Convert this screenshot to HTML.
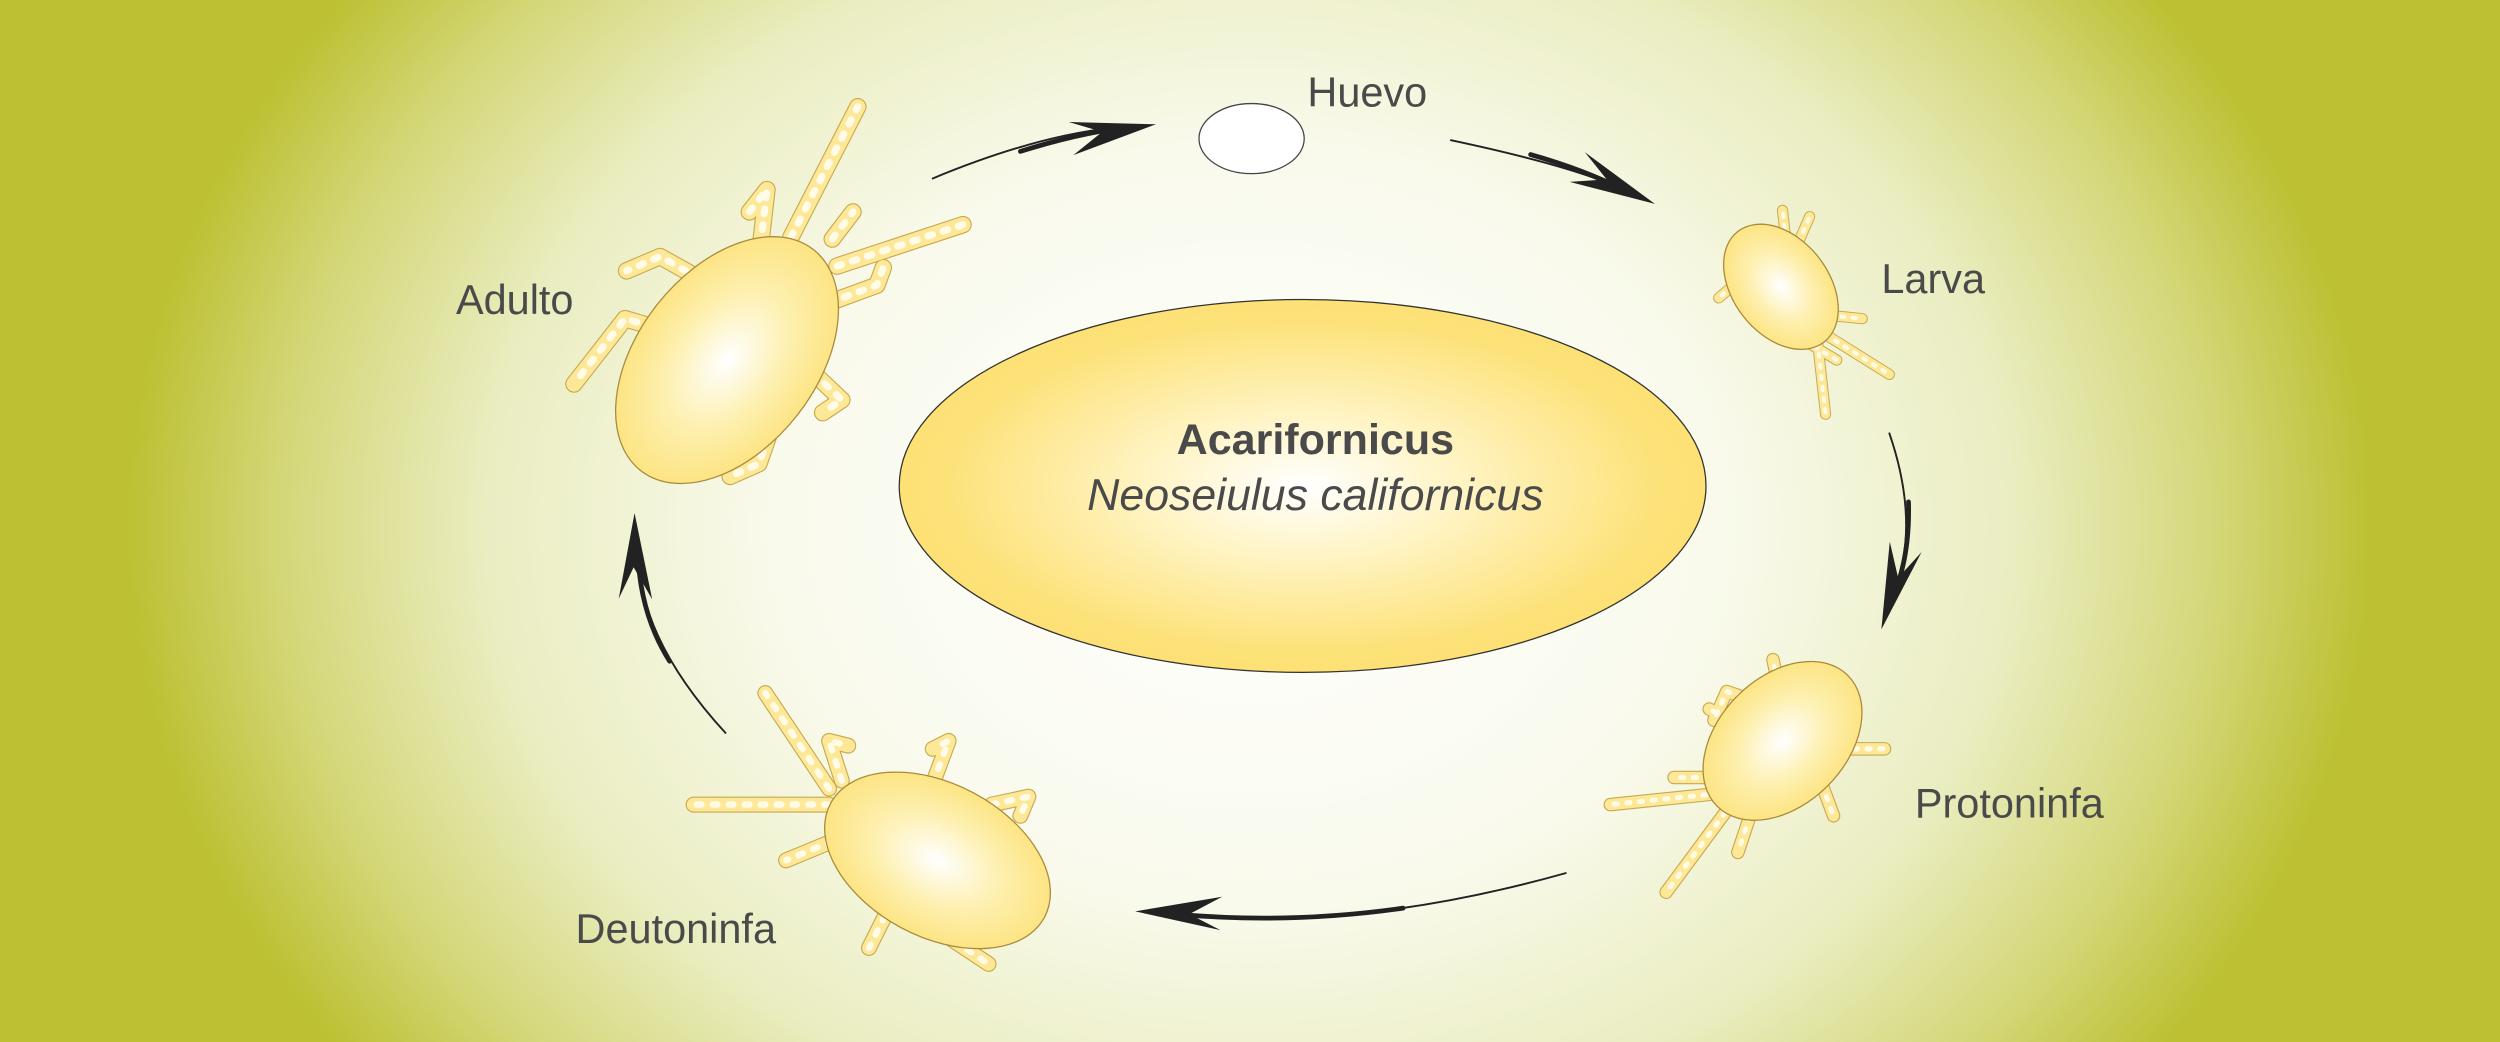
<!DOCTYPE html>
<html><head><meta charset="utf-8"><style>
html,body{margin:0;padding:0;width:2500px;height:1042px;overflow:hidden;background:#bcc032}
svg{display:block}
text{font-family:"Liberation Sans",sans-serif;fill:#4a4a4a}
</style></head><body>
<svg width="2500" height="1042" viewBox="0 0 1568 654" preserveAspectRatio="none" xmlns="http://www.w3.org/2000/svg">
<defs>
<radialGradient id="bg" gradientUnits="userSpaceOnUse" cx="784" cy="330" r="705" gradientTransform="translate(784 330) scale(1 0.8) translate(-784 -330)">
<stop offset="0" stop-color="#ffffff"/><stop offset="0.42" stop-color="#f9faec"/><stop offset="0.68" stop-color="#eaedc0"/><stop offset="0.86" stop-color="#d4d778"/><stop offset="1" stop-color="#bcc032"/>
</radialGradient>
<radialGradient id="gold" cx="0.5" cy="0.5" r="0.55">
<stop offset="0" stop-color="#ffffff"/><stop offset="0.35" stop-color="#fff4c4"/><stop offset="0.8" stop-color="#fde27a"/><stop offset="1" stop-color="#fde070"/>
</radialGradient>
<radialGradient id="body" cx="0.5" cy="0.5" r="0.55">
<stop offset="0" stop-color="#ffffff"/><stop offset="0.5" stop-color="#fdf0b0"/><stop offset="1" stop-color="#fde27a"/>
</radialGradient>
<polygon id="ah" points="0,0 -54,-9 -34,0 -54,12" fill="#222"/>
<g id="legA">
<path d="M496,149 L538,67"/><path d="M477,154 L481,119 L470,133"/><path d="M525,167 L604,141"/>
<path d="M520,190 L550,179 L554,168"/><path d="M439,175 L414,161 L393,170"/><path d="M409,205 L392,200 L360,241"/>
<path d="M510,234 L528,251 L516,259"/><path d="M485,265 L476,291 L458,299"/><path d="M522,150 L535,133"/>
</g>
<g id="legL">
<path d="M1120,150 L1118,132"/><path d="M1128,152 L1135,136"/><path d="M1092,175 L1078,187"/>
<path d="M1148,198 L1168,200"/><path d="M1145,210 L1185,235"/><path d="M1140,215 L1145,260"/><path d="M1132,214 L1152,226"/>
</g>
<g id="legP">
<path d="M1100,440 L1083,434 L1075,452"/><path d="M1090,455 L1072,445"/><path d="M1078,498 L1010,505"/>
<path d="M1082,510 L1045,560"/><path d="M1100,505 L1090,535"/><path d="M1140,485 L1150,512"/>
<path d="M1155,470 L1182,470"/><path d="M1115,428 L1112,414"/><path d="M1072,488 L1050,488"/>
</g>
<g id="legD">
<path d="M520,505 L435,505"/><path d="M520,495 L480,435"/><path d="M528,490 L520,465 L532,468"/>
<path d="M585,492 L595,465 L585,470"/><path d="M622,505 L645,500 L640,512"/><path d="M522,528 L493,540"/>
<path d="M555,575 L545,595"/><path d="M590,585 L620,605"/>
</g>
</defs>
<rect width="1568" height="654" fill="url(#bg)"/>

<ellipse cx="817" cy="305" rx="253" ry="117" fill="url(#gold)" stroke="#333" stroke-width="0.8"/>
<text x="825" y="285" font-size="27" font-weight="bold" text-anchor="middle">Acarifornicus</text>
<text x="825" y="320" font-size="28" font-style="italic" text-anchor="middle">Neoseiulus californicus</text>

<ellipse cx="785" cy="87" rx="33" ry="22" fill="#fff" stroke="#444" stroke-width="0.8"/>

<text x="820" y="67" font-size="26">Huevo</text>
<text x="1180" y="184" font-size="26">Larva</text>
<text x="1201" y="513" font-size="26">Protoninfa</text>
<text x="361" y="592" font-size="26">Deutoninfa</text>
<text x="286" y="197" font-size="26">Adulto</text>

<g fill="none" stroke="#222" stroke-linecap="round">
<path d="M585,112 Q650,85 700,80" stroke-width="1.2"/><path d="M640,95 Q675,84 705,80" stroke-width="3"/>
<path d="M910,88 Q990,105 1020,120" stroke-width="1.2"/><path d="M960,97 Q995,107 1020,120" stroke-width="3"/>
<path d="M1185,272 Q1205,330 1187,375" stroke-width="1.2"/><path d="M1197,315 Q1198,350 1187,375" stroke-width="3"/>
<path d="M982,548 Q850,585 740,574" stroke-width="1.2"/><path d="M880,570 Q810,580 740,574" stroke-width="3"/>
<path d="M455,460 Q400,400 400,345" stroke-width="1.2"/><path d="M420,415 Q401,385 400,345" stroke-width="3"/>
</g>
<use href="#ah" transform="translate(725,78) rotate(-8)"/>
<use href="#ah" transform="translate(1038,128) rotate(27)"/>
<use href="#ah" transform="translate(1180,395) rotate(108)"/>
<use href="#ah" transform="translate(712,572) rotate(183)"/>
<use href="#ah" transform="translate(398,322) rotate(-89)"/>

<g fill="none" stroke-linecap="round" stroke-linejoin="round">
<use href="#legA" stroke="#c8a850" stroke-width="11"/>
<use href="#legA" stroke="#fde898" stroke-width="9.6"/>
<use href="#legA" stroke="#fffbe6" stroke-width="4.5" stroke-dasharray="3 7"/>
<use href="#legL" stroke="#c8a850" stroke-width="7"/>
<use href="#legL" stroke="#fde898" stroke-width="5.8"/>
<use href="#legL" stroke="#fffbe6" stroke-width="2.6" stroke-dasharray="2 5"/>
<use href="#legP" stroke="#c8a850" stroke-width="8.5"/>
<use href="#legP" stroke="#fde898" stroke-width="7.1"/>
<use href="#legP" stroke="#fffbe6" stroke-width="3.2" stroke-dasharray="2 6"/>
<use href="#legD" stroke="#c8a850" stroke-width="10"/>
<use href="#legD" stroke="#fde898" stroke-width="8.6"/>
<use href="#legD" stroke="#fffbe6" stroke-width="4" stroke-dasharray="3 7"/>
</g>

<g stroke="#a88a3a" stroke-width="0.8" fill="url(#body)">
<ellipse cx="0" cy="0" rx="88" ry="56" transform="translate(456,226) rotate(-52)"/>
<ellipse cx="0" cy="0" rx="44" ry="30" transform="translate(1117,180) rotate(52)"/>
<ellipse cx="0" cy="0" rx="58" ry="40" transform="translate(1118,465) rotate(-45)"/>
<ellipse cx="0" cy="0" rx="76" ry="48" transform="translate(588,540) rotate(28)"/>
</g>
</svg>
</body></html>
